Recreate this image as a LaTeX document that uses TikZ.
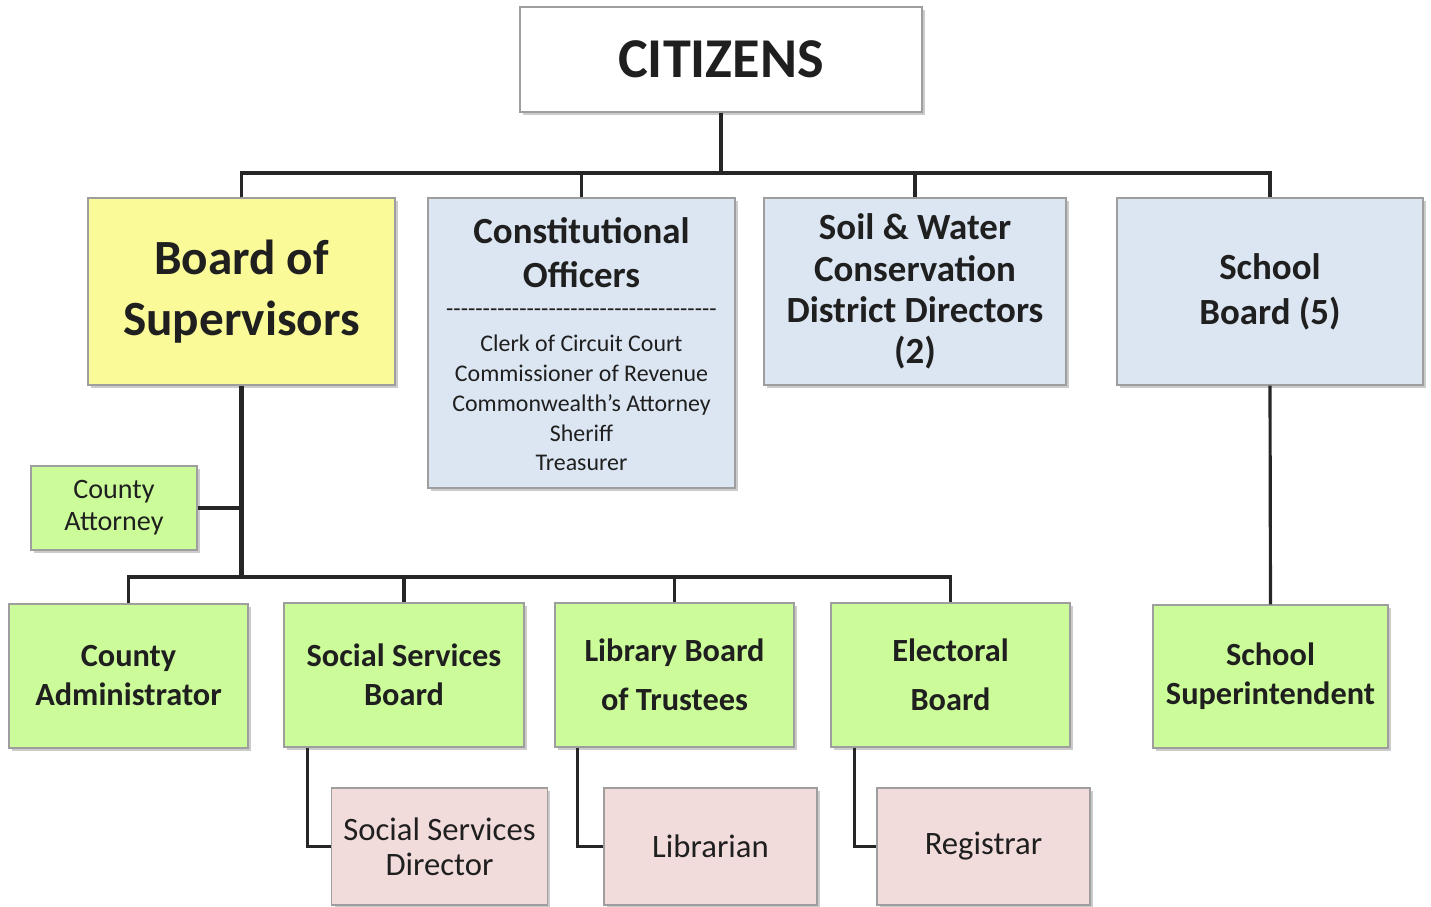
\documentclass[tikz,border=0pt]{standalone}
\usepackage{fontspec}
\setmainfont{Carlito}
\usetikzlibrary{shadows}

\definecolor{bosyellow}{RGB}{250,250,152}
\definecolor{electblue}{RGB}{220,230,242}
\definecolor{apptgreen}{RGB}{204,252,153}
\definecolor{staffpink}{RGB}{242,220,219}

\begin{document}
\begin{tikzpicture}[
  box/.style={draw=black!38, line width=0.4pt, align=center, text=black!88,
    drop shadow={shadow xshift=0.9pt, shadow yshift=-0.9pt, fill=black!45, opacity=0.45}},
  sized/.style 2 args={minimum width=#1cm, minimum height=#2cm},
  topbox/.style={box, fill=white},
  bosbox/.style={box, fill=bosyellow},
  electbox/.style={box, fill=electblue},
  apptbox/.style={box, fill=apptgreen},
  staffbox/.style={box, fill=staffpink},
  trunk/.style={line width=1.2pt, black!85},
  branch/.style={line width=0.9pt, black!85}
]
\useasboundingbox[fill=white] (0,0) rectangle (14.31,9.07);

% elected
\node[topbox, sized={4.02}{1.05}, font=\fontsize{16}{19}\selectfont\bfseries] (citizens) at (7.21, 8.475) {CITIZENS};
\node[bosbox, sized={3.07}{1.87}, font=\fontsize{14}{17.3}\selectfont\bfseries] (bos) at (2.415, 6.155) {Board of\\Supervisors};
\node[electbox, sized={3.07}{2.90}] (const) at (5.815, 5.64) {};
\node[align=center, text=black!88, font=\fontsize{10.5}{12.5}\selectfont\bfseries] (consttitle) at (5.815, 6.54) {Constitutional\\Officers};
\node[text=black!88, font=\fontsize{6.8}{8.5}\selectfont] (construle) at (5.815, 5.94) {\foreach \d in {1,...,37}{-\kern0pt}};
\node[align=center, text=black!88, font=\fontsize{6.8}{8.5}\selectfont] (constlist) at (5.815, 5.04) {Clerk of Circuit Court\\Commissioner of Revenue\\Commonwealth’s Attorney\\Sheriff\\Treasurer};
\node[electbox, sized={3.02}{1.87}, font=\fontsize{10.5}{11.7}\selectfont\bfseries] (soil) at (9.15, 6.155) {Soil \& Water\\Conservation\\District Directors\\(2)};
\node[electbox, sized={3.06}{1.87}, font=\fontsize{10.5}{12.8}\selectfont\bfseries] (school) at (12.70, 6.155) {School\\Board (5)};

% appointed
\node[apptbox, sized={1.66}{0.84}, font=\fontsize{8}{9.1}\selectfont] (attorney) at (1.14, 3.99) {County\\Attorney};
\node[apptbox, sized={2.39}{1.44}, font=\fontsize{9.2}{11.1}\selectfont\bfseries] (admin) at (1.285, 2.31) {County\\Administrator};
\node[apptbox, sized={2.40}{1.44}, font=\fontsize{9.2}{11.1}\selectfont\bfseries] (ssb) at (4.04, 2.32) {Social Services\\Board};
\node[apptbox, sized={2.39}{1.44}, font=\fontsize{9.2}{11.1}\selectfont\bfseries] (lib) at (6.745, 2.32) {Library Board\\[3pt]of Trustees};
\node[apptbox, sized={2.39}{1.44}, font=\fontsize{9.2}{11.1}\selectfont\bfseries] (elect) at (9.505, 2.32) {Electoral\\[3pt]Board};
\node[apptbox, sized={2.35}{1.43}, font=\fontsize{9.2}{11.1}\selectfont\bfseries] (super) at (12.705, 2.305) {School\\Superintendent};

% staff
\node[staffbox, sized={2.13}{1.17}, font=\fontsize{9.3}{10}\selectfont] (ssd) at (4.395, 0.605) {Social Services\\Director};
\node[staffbox, sized={2.13}{1.17}, font=\fontsize{9.3}{10}\selectfont] (librarian) at (7.105, 0.605) {Librarian};
\node[staffbox, sized={2.13}{1.17}, font=\fontsize{9.3}{10}\selectfont] (registrar) at (9.835, 0.605) {Registrar};

% connectors
\coordinate (topbus) at (7.21, 7.34);
\coordinate (lowbus) at (2.415, 3.30);
\draw[trunk] (citizens.south) -- (topbus);
\draw[branch] (bos.north) |- (topbus) -| (school.north);
\draw[branch] (const.north) -- (const.north |- topbus);
\draw[branch] (soil.north) -- (soil.north |- topbus);
\draw[trunk] (bos.south) -- (lowbus);
\draw[branch] (attorney.east) -- (attorney.east -| bos.south);
\draw[branch] (admin.north) |- (lowbus) -| (elect.north);
\draw[branch] (ssb.north) -- (ssb.north |- lowbus);
\draw[branch] (lib.north) -- (lib.north |- lowbus);
\draw[branch] ([xshift=0.24cm]ssb.south west) |- (ssd.west);
\draw[branch] ([xshift=0.23cm]lib.south west) |- (librarian.west);
\draw[branch] ([xshift=0.24cm]elect.south west) |- (registrar.west);
\draw[branch] (school.south) -- (super.north);
\end{tikzpicture}
\end{document}
